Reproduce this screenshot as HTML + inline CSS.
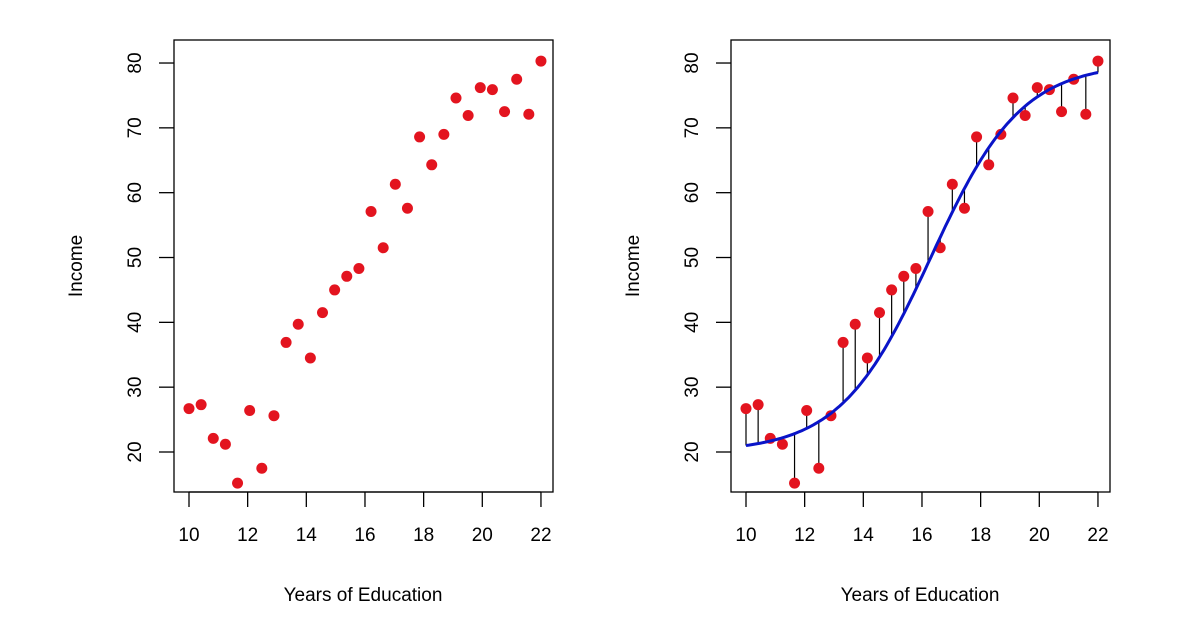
<!DOCTYPE html>
<html><head><meta charset="utf-8"><style>body{margin:0;background:#fff}svg{display:block}text{font-family:"Liberation Sans",Arial,sans-serif;font-size:19px;fill:#000}</style></head>
<body>
<svg id="s" width="1179" height="643" xmlns="http://www.w3.org/2000/svg"></svg>
<script>
const ys=[26.7,27.3,22.1,21.2,15.2,26.4,17.5,25.6,36.9,39.7,34.5,41.5,45.0,47.1,48.3,57.1,51.5,61.3,57.6,68.6,64.3,69.0,74.6,71.9,76.2,75.9,72.5,77.5,72.1,80.3];
const f=x=>20+60/(1+Math.exp(-(x-16.3)*0.647));
let h='';
function panel(ox,fit){
  const X=v=>ox+189+(v-10)*29.33, Y=v=>452-(v-20)*6.483;
  h+=`<rect x="${ox+174}" y="40" width="379" height="452" fill="none" stroke="#000" stroke-width="1.3"/>`;
  h+=`<line x1="${X(10)}" y1="492" x2="${X(22)}" y2="492" stroke="#000" stroke-width="1.3"/>`;
  for(let v=10;v<=22;v+=2){h+=`<line x1="${X(v)}" y1="492" x2="${X(v)}" y2="507" stroke="#000" stroke-width="1.3"/><text x="${X(v)}" y="541" text-anchor="middle">${v}</text>`;}
  for(let v=20;v<=80;v+=10){h+=`<line x1="${ox+174}" y1="${Y(v)}" x2="${ox+159}" y2="${Y(v)}" stroke="#000" stroke-width="1.3"/><text transform="translate(${ox+141},${Y(v)}) rotate(-90)" text-anchor="middle">${v}</text>`;}
  h+=`<text x="${ox+363}" y="601" text-anchor="middle">Years of Education</text>`;
  h+=`<text transform="translate(${ox+82},266) rotate(-90)" text-anchor="middle">Income</text>`;
  const xs=ys.map((_,i)=>10+i*12/29);
  if(fit){
    xs.forEach((x,i)=>{h+=`<line x1="${X(x)}" y1="${Y(ys[i])}" x2="${X(x)}" y2="${Y(f(x))}" stroke="#000" stroke-width="1.2"/>`;});
  }
  xs.forEach((x,i)=>{h+=`<circle cx="${X(x)}" cy="${Y(ys[i])}" r="5.5" fill="#e3141f"/>`;});
  if(fit){
    let p='';for(let x=10;x<=22.001;x+=0.1)p+=(p?'L':'M')+X(x).toFixed(1)+','+Y(f(x)).toFixed(1);
    h+=`<path d="${p}" fill="none" stroke="#0a14c8" stroke-width="3"/>`;
  }
}
panel(0,false);panel(557,true);
document.getElementById('s').innerHTML=h;
</script>
</body></html>
